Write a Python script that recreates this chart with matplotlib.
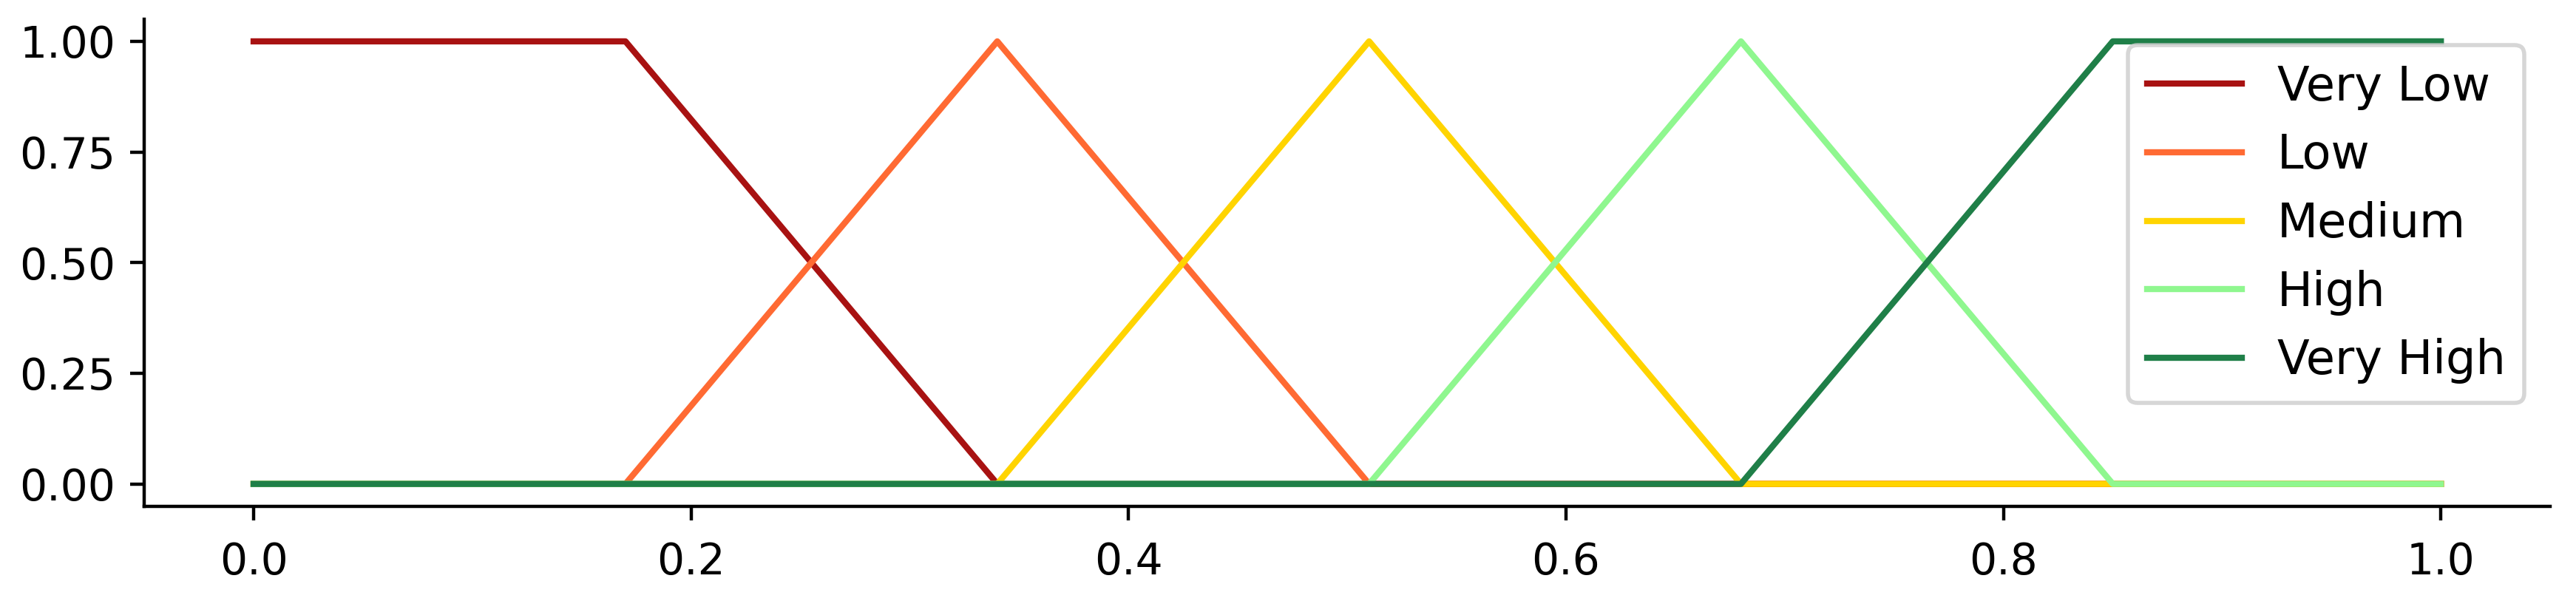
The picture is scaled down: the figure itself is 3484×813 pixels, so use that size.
import matplotlib
matplotlib.use('Agg')
import matplotlib.pyplot as plt

# Membership function breakpoints (x) and membership values (y)
labels = ['Very Low', 'Low', 'Medium', 'High', 'Very High']
colors = ['#A81212', '#FF6A33', '#FFD400', '#8FF78F', '#1F7F48']

very_low_x = [0.0, 0.17, 0.34, 1.0]
very_low_y = [1.0, 1.0, 0.0, 0.0]

low_x = [0.0, 0.17, 0.34, 0.51, 1.0]
low_y = [0.0, 0.0, 1.0, 0.0, 0.0]

medium_x = [0.0, 0.34, 0.51, 0.68, 1.0]
medium_y = [0.0, 0.0, 1.0, 0.0, 0.0]

high_x = [0.0, 0.51, 0.68, 0.85, 1.0]
high_y = [0.0, 0.0, 1.0, 0.0, 0.0]

very_high_x = [0.0, 0.68, 0.85, 1.0]
very_high_y = [0.0, 0.0, 1.0, 1.0]

series = [(very_low_x, very_low_y), (low_x, low_y), (medium_x, medium_y),
          (high_x, high_y), (very_high_x, very_high_y)]

fig = plt.figure(figsize=(8.71, 2.0325), dpi=400)
ax = fig.add_axes([0.056, 0.158, 0.934, 0.81])

for (xs, ys), lab, col in zip(series, labels, colors):
    ax.plot(xs, ys, color=col, linewidth=1.5, label=lab)

ax.spines['top'].set_visible(False)
ax.spines['right'].set_visible(False)
ax.set_xticks([0.0, 0.2, 0.4, 0.6, 0.8, 1.0])
ax.set_yticks([0.0, 0.25, 0.5, 0.75, 1.0])
ax.tick_params(axis='both', labelsize=10.5)
ax.tick_params(axis='x', pad=5)
ax.legend(loc='upper right', fontsize=11.5, labelspacing=0.48,
          borderaxespad=0.55, handletextpad=0.75)

fig.savefig('out.png', dpi=400)
